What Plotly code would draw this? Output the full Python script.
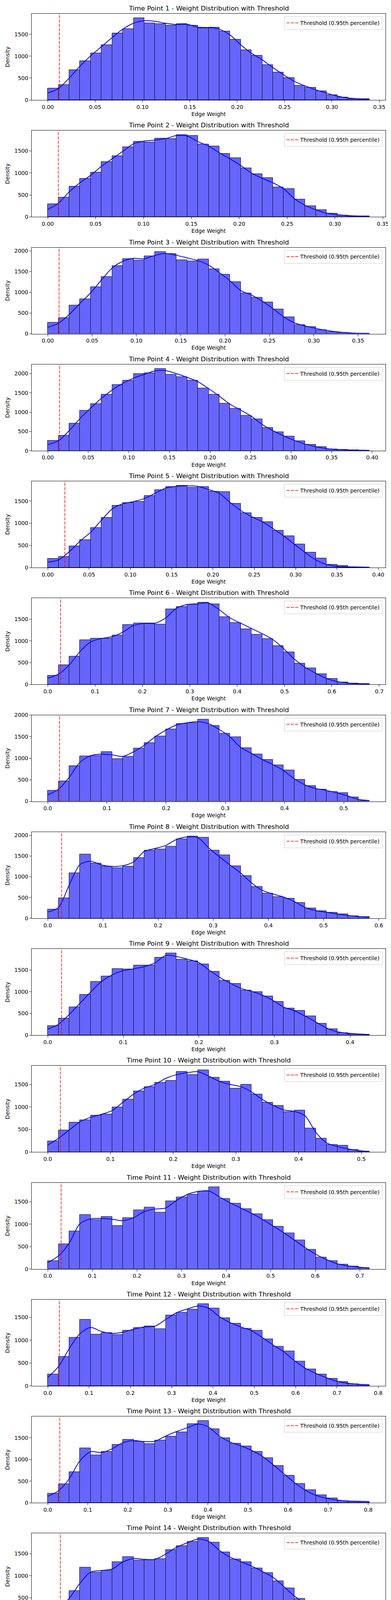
import numpy as np
import plotly.graph_objects as go
from plotly.subplots import make_subplots

# upper end of the 30 equal-width bins (bins start at 0) and threshold per panel
x_max = [0.3396, 0.3360, 0.3628, 0.3966, 0.3893, 0.6793, 0.5434, 0.5831, 0.4257, 0.5129,
         0.7215, 0.7787, 0.8031, 0.7932, 0.7980, 0.8030, 0.8082, 0.8030, 0.8082, 0.7980]
thresholds = [0.0122, 0.0110, 0.0128, 0.0146, 0.0207, 0.0271, 0.0200, 0.0251, 0.0183, 0.0201,
              0.0300, 0.0280, 0.0300, 0.0310, 0.0290, 0.0300, 0.0297, 0.0296, 0.0297, 0.0300]
x_tick_step = [0.05, 0.05, 0.05, 0.05, 0.05] + [0.1] * 15

# bar heights (30 bins) and kde values at the 31 bin edges
tp1_counts = [268, 349, 686, 895, 1071, 1259, 1527, 1625, 1879, 1760, 1742, 1709, 1742, 1709, 1646,
              1661, 1572, 1387, 1142, 1017, 805, 632, 507, 331, 286, 203, 113, 63, 27, 24]
tp1_kde = [158, 262, 501, 770, 1008, 1217, 1426, 1619, 1754, 1813, 1798, 1754, 1724, 1730, 1664, 1655,
           1619, 1485, 1262, 1068, 918, 740, 576, 426, 322, 233, 158, 89, 48, 30, 18]
tp2_counts = [297, 448, 697, 868, 1018, 1250, 1384, 1589, 1715, 1695, 1790, 1783, 1872, 1848, 1650,
              1606, 1445, 1339, 1114, 980, 892, 680, 642, 403, 249, 161, 82, 38, 20, 17]
tp2_kde = [171, 314, 570, 776, 946, 1151, 1322, 1493, 1664, 1725, 1749, 1783, 1852, 1842, 1715, 1613,
           1459, 1322, 1168, 998, 878, 776, 639, 417, 263, 161, 85, 51, 31, 20, 17]
tp3_counts = [275, 387, 691, 839, 1132, 1378, 1635, 1812, 1768, 1870, 1982, 1928, 1783, 1747, 1794,
              1566, 1432, 1248, 980, 875, 763, 593, 405, 213, 170, 94, 43, 25, 11, 7]
tp3_kde = [156, 253, 463, 734, 987, 1295, 1584, 1747, 1819, 1808, 1892, 1935, 1892, 1830, 1765, 1656,
           1476, 1277, 1042, 933, 788, 608, 409, 264, 192, 130, 83, 47, 25, 11, 7]
tp4_counts = [264, 397, 711, 1046, 1217, 1462, 1715, 1827, 1991, 2010, 2131, 1979, 1909, 1827, 1625,
              1462, 1229, 1089, 910, 820, 595, 486, 373, 253, 159, 101, 39, 27, 19, 12]
tp4_kde = [156, 257, 521, 832, 1104, 1357, 1571, 1746, 1882, 1979, 2068, 2076, 1998, 1901, 1790, 1610,
           1415, 1205, 1050, 890, 677, 521, 385, 268, 171, 101, 54, 31, 19, 12, 8]
tp5_counts = [203, 250, 486, 628, 895, 1125, 1399, 1466, 1493, 1625, 1750, 1828, 1855, 1811, 1828,
              1716, 1713, 1449, 1236, 1132, 1027, 841, 713, 527, 341, 213, 71, 44, 10, 7]
tp5_kde = [122, 172, 358, 595, 797, 1068, 1321, 1439, 1490, 1557, 1676, 1794, 1834, 1845, 1834, 1760,
           1676, 1473, 1287, 1152, 1034, 882, 713, 527, 341, 172, 71, 27, 17, 14, 10]
tp6_counts = [209, 453, 642, 1026, 1057, 1061, 1133, 1373, 1407, 1411, 1377, 1727, 1785, 1840, 1888,
              1850, 1555, 1421, 1277, 1150, 1050, 889, 748, 481, 374, 244, 137, 58, 31, 14]
tp6_kde = [144, 240, 446, 755, 978, 1057, 1099, 1202, 1356, 1401, 1407, 1528, 1751, 1837, 1854, 1871,
           1716, 1528, 1407, 1287, 1167, 1030, 824, 584, 395, 257, 137, 69, 34, 17, 10]
tp7_counts = [249, 471, 828, 1053, 1060, 1153, 987, 1043, 1233, 1358, 1514, 1670, 1805, 1822, 1905,
              1756, 1576, 1496, 1243, 1095, 970, 842, 727, 509, 364, 277, 229, 197, 100, 21]
tp7_kde = [152, 281, 558, 904, 1060, 1095, 1077, 1043, 1147, 1302, 1493, 1649, 1770, 1822, 1846, 1800,
           1666, 1493, 1250, 1112, 973, 852, 713, 523, 381, 298, 253, 194, 125, 45, 21]
tp8_counts = [219, 489, 1086, 1543, 1327, 1252, 1212, 1252, 1457, 1637, 1665, 1730, 1910, 1978, 1946,
              1637, 1522, 1259, 1025, 763, 601, 518, 482, 378, 245, 180, 144, 104, 58, 40]
tp8_kde = [151, 260, 800, 1290, 1374, 1284, 1248, 1266, 1356, 1608, 1680, 1752, 1896, 1957, 1939, 1698,
           1482, 1284, 1086, 853, 673, 583, 511, 403, 259, 187, 144, 104, 68, 43, 25]
tp9_counts = [214, 386, 648, 931, 1234, 1362, 1531, 1521, 1607, 1610, 1793, 1893, 1748, 1710, 1638,
              1469, 1262, 1190, 1034, 1000, 900, 776, 621, 569, 441, 269, 141, 55, 28, 14]
tp9_kde = [138, 252, 476, 734, 993, 1234, 1390, 1483, 1528, 1579, 1666, 1838, 1814, 1752, 1683, 1510,
           1338, 1200, 1079, 1010, 924, 803, 648, 562, 441, 303, 166, 79, 45, 28, 14]
tp10_counts = [239, 488, 654, 714, 810, 836, 999, 1172, 1347, 1444, 1537, 1580, 1779, 1713, 1822,
               1656, 1563, 1414, 1494, 1278, 1102, 1026, 889, 929, 531, 305, 166, 143, 53, 13]
tp10_kde = [156, 305, 488, 670, 770, 836, 919, 1102, 1284, 1417, 1500, 1633, 1716, 1759, 1782, 1683,
            1567, 1500, 1450, 1334, 1168, 1036, 936, 902, 803, 438, 206, 123, 73, 33, 13]
tp11_counts = [183, 557, 843, 1210, 1097, 1167, 967, 1140, 1317, 1373, 1263, 1517, 1600, 1667, 1733,
               1833, 1567, 1463, 1340, 1227, 1097, 950, 803, 643, 437, 260, 183, 103, 57, 27]
tp11_kde = [143, 293, 577, 1010, 1117, 1127, 1110, 1077, 1143, 1277, 1337, 1360, 1527, 1660, 1727, 1743,
            1610, 1477, 1360, 1243, 1110, 960, 810, 643, 477, 327, 210, 117, 70, 43, 23]
tp12_counts = [258, 644, 1062, 1454, 1131, 1157, 1121, 1216, 1268, 1310, 1248, 1549, 1608, 1676, 1797,
               1703, 1487, 1369, 1258, 1216, 1023, 866, 761, 539, 366, 255, 163, 95, 42, 26]
tp12_kde = [186, 422, 814, 1141, 1278, 1190, 1147, 1173, 1239, 1288, 1304, 1451, 1598, 1680, 1745, 1696,
            1516, 1386, 1288, 1206, 1059, 895, 748, 552, 389, 275, 176, 101, 56, 36, 26]
tp13_counts = [215, 430, 714, 1264, 1101, 1181, 1344, 1462, 1413, 1358, 1444, 1534, 1635, 1825, 1898,
               1704, 1493, 1372, 1309, 1185, 1036, 856, 630, 440, 294, 184, 111, 42, 28, 24]
tp13_kde = [149, 277, 554, 970, 1178, 1160, 1247, 1386, 1437, 1413, 1420, 1541, 1645, 1732, 1819, 1749,
            1541, 1403, 1316, 1212, 1074, 883, 675, 468, 294, 173, 104, 62, 42, 35, 28]
tp14_counts = [214, 418, 656, 1190, 1071, 1122, 1313, 1429, 1350, 1361, 1384, 1592, 1677, 1776, 1867,
               1759, 1537, 1374, 1313, 1170, 1065, 878, 718, 480, 361, 245, 143, 78, 37, 27]
tp14_kde = [146, 265, 486, 827, 1082, 1116, 1150, 1310, 1388, 1371, 1371, 1490, 1643, 1745, 1830, 1779,
            1575, 1422, 1320, 1218, 1099, 963, 759, 537, 367, 231, 139, 78, 44, 31, 24]
tp15_counts = [222, 426, 651, 1193, 1238, 1118, 1248, 1548, 1309, 1456, 1500, 1633, 1735, 1817, 1872,
               1701, 1432, 1337, 1217, 1159, 996, 852, 675, 453, 334, 194, 123, 61, 31, 17]
tp15_kde = [143, 273, 511, 904, 1193, 1183, 1227, 1415, 1432, 1449, 1500, 1619, 1705, 1756, 1824, 1705,
            1466, 1347, 1244, 1159, 1023, 869, 665, 460, 307, 188, 113, 68, 41, 24, 17]
tp16_counts = [224, 430, 563, 948, 1238, 1129, 1056, 1503, 1626, 1531, 1622, 1622, 1731, 1825, 1916,
               1678, 1420, 1350, 1231, 1119, 1010, 853, 703, 479, 332, 217, 122, 70, 28, 21]
tp16_kde = [150, 280, 455, 699, 1031, 1161, 1119, 1250, 1503, 1573, 1580, 1626, 1678, 1766, 1836, 1731,
            1469, 1346, 1259, 1154, 1021, 857, 699, 490, 332, 192, 105, 59, 35, 24, 17]
tp17_counts = [218, 428, 596, 1014, 1098, 1158, 1270, 1351, 1516, 1491, 1691, 1884, 1919, 1800, 1839,
               1579, 1407, 1242, 1196, 1088, 989, 839, 674, 446, 298, 207, 116, 67, 28, 18]
tp17_kde = [147, 270, 463, 744, 1007, 1112, 1182, 1270, 1375, 1498, 1568, 1761, 1895, 1849, 1796, 1674,
            1446, 1288, 1207, 1130, 1025, 884, 691, 481, 305, 182, 102, 60, 35, 21, 14]
tp18_counts = [237, 411, 602, 1048, 1138, 1051, 1302, 1476, 1493, 1538, 1664, 1893, 1893, 1907, 1883,
               1518, 1347, 1267, 1211, 1027, 999, 828, 637, 473, 327, 219, 129, 73, 17, 10]
tp18_kde = [153, 265, 421, 682, 1013, 1107, 1117, 1274, 1448, 1500, 1570, 1779, 1900, 1911, 1893, 1726,
            1378, 1274, 1204, 1100, 1013, 908, 717, 543, 404, 265, 143, 80, 42, 21, 14]
tp19_counts = [221, 425, 572, 902, 1084, 1081, 1204, 1449, 1523, 1607, 1709, 1818, 1930, 1912, 1909,
               1572, 1389, 1291, 1186, 1074, 1000, 863, 663, 470, 309, 232, 119, 63, 21, 14]
tp19_kde = [151, 274, 449, 712, 958, 1081, 1133, 1256, 1449, 1519, 1607, 1712, 1835, 1916, 1905, 1782,
            1502, 1361, 1256, 1168, 1081, 993, 853, 660, 449, 274, 133, 63, 28, 18, 14]
tp20_counts = [223, 446, 780, 1071, 1320, 1160, 1114, 1569, 1511, 1460, 1526, 1757, 1800, 1777, 1757,
               1577, 1354, 1200, 1157, 994, 963, 891, 694, 574, 377, 240, 174, 120, 34, 23]
tp20_kde = [149, 277, 534, 849, 1091, 1229, 1186, 1249, 1477, 1506, 1497, 1563, 1749, 1777, 1769, 1677,
            1391, 1234, 1163, 1091, 991, 920, 820, 649, 477, 320, 206, 106, 54, 29, 20]

counts = [tp1_counts, tp2_counts, tp3_counts, tp4_counts, tp5_counts, tp6_counts, tp7_counts,
          tp8_counts, tp9_counts, tp10_counts, tp11_counts, tp12_counts, tp13_counts, tp14_counts,
          tp15_counts, tp16_counts, tp17_counts, tp18_counts, tp19_counts, tp20_counts]
kdes = [tp1_kde, tp2_kde, tp3_kde, tp4_kde, tp5_kde, tp6_kde, tp7_kde, tp8_kde, tp9_kde, tp10_kde,
        tp11_kde, tp12_kde, tp13_kde, tp14_kde, tp15_kde, tp16_kde, tp17_kde, tp18_kde, tp19_kde, tp20_kde]

titles = [f"Time Point {i} - Weight Distribution with Threshold" for i in range(1, 20)]
titles.append("Edge Weight Distribution with Threshold at 0.95th Percentile for high_gamma1 Band for method plv")

FONT = "DejaVu Sans"
n = len(counts)
# the page body adds an 8px offset, so margins are shifted by that amount
MARGIN = dict(l=73, r=22, t=27, b=66)
plot_h = 6000 - MARGIN["t"] - MARGIN["b"]

fig = make_subplots(rows=n, cols=1, subplot_titles=titles, vertical_spacing=0.01325)

for i in range(n):
    row = i + 1
    edges = np.linspace(0, x_max[i], 31)
    centers = (edges[:-1] + edges[1:]) / 2
    bw = edges[1] - edges[0]
    y_top = max(counts[i]) * 1.05
    leg = "legend" if row == 1 else f"legend{row}"

    fig.add_trace(go.Bar(x=centers, y=counts[i], width=bw,
                         marker=dict(color="rgba(0,0,255,0.6)", line=dict(color="black", width=1)),
                         showlegend=False, hoverinfo="skip"), row=row, col=1)
    fig.add_trace(go.Scatter(x=edges, y=kdes[i], mode="lines",
                             line=dict(color="blue", width=2, shape="spline", smoothing=0.8),
                             showlegend=False, hoverinfo="skip"), row=row, col=1)
    fig.add_trace(go.Scatter(x=[thresholds[i], thresholds[i]], y=[0, y_top], mode="lines",
                             line=dict(color="red", width=1.5, dash="8px,3px"),
                             name="Threshold (0.95th percentile)", legend=leg), row=row, col=1)

    fmt = ".2f" if x_tick_step[i] < 0.1 else ".1f"
    fig.update_xaxes(range=[-0.05 * x_max[i], 1.05 * x_max[i]], tick0=0, dtick=x_tick_step[i],
                     tickformat=fmt, row=row, col=1)
    fig.update_yaxes(range=[0, y_top], tick0=0, dtick=500, row=row, col=1)

    ykey = "yaxis" if row == 1 else f"yaxis{row}"
    dom = fig.layout[ykey].domain
    fig.layout[leg] = dict(x=0.991, xanchor="right", y=dom[1] - 7 / plot_h, yanchor="top",
                           bgcolor="rgba(255,255,255,0.8)", bordercolor="#cccccc", borderwidth=1,
                           font=dict(family=FONT, size=13.9, color="black"))

fig.update_xaxes(showline=True, mirror=True, linecolor="black", linewidth=1, showgrid=False,
                 zeroline=False, ticks="outside", ticklen=5, tickwidth=1, tickcolor="black",
                 tickfont=dict(family=FONT, size=13.9, color="black"),
                 title=dict(text="Edge Weight", standoff=6, font=dict(family=FONT, size=13.9, color="black")))
fig.update_yaxes(showline=True, mirror=True, linecolor="black", linewidth=1, showgrid=False,
                 zeroline=False, ticks="outside", ticklen=5, tickwidth=1, tickcolor="black",
                 tickfont=dict(family=FONT, size=13.9, color="black"),
                 title=dict(text="Density", standoff=8, font=dict(family=FONT, size=13.9, color="black")))

for ann in fig.layout.annotations:
    ann.font = dict(family=FONT, size=16.7, color="black")
    ann.yshift = 2

fig.update_layout(width=1000, height=6000, margin=MARGIN,
                  plot_bgcolor="white", paper_bgcolor="white", bargap=0,
                  font=dict(family=FONT, color="black"))

fig.write_html("out.html")
